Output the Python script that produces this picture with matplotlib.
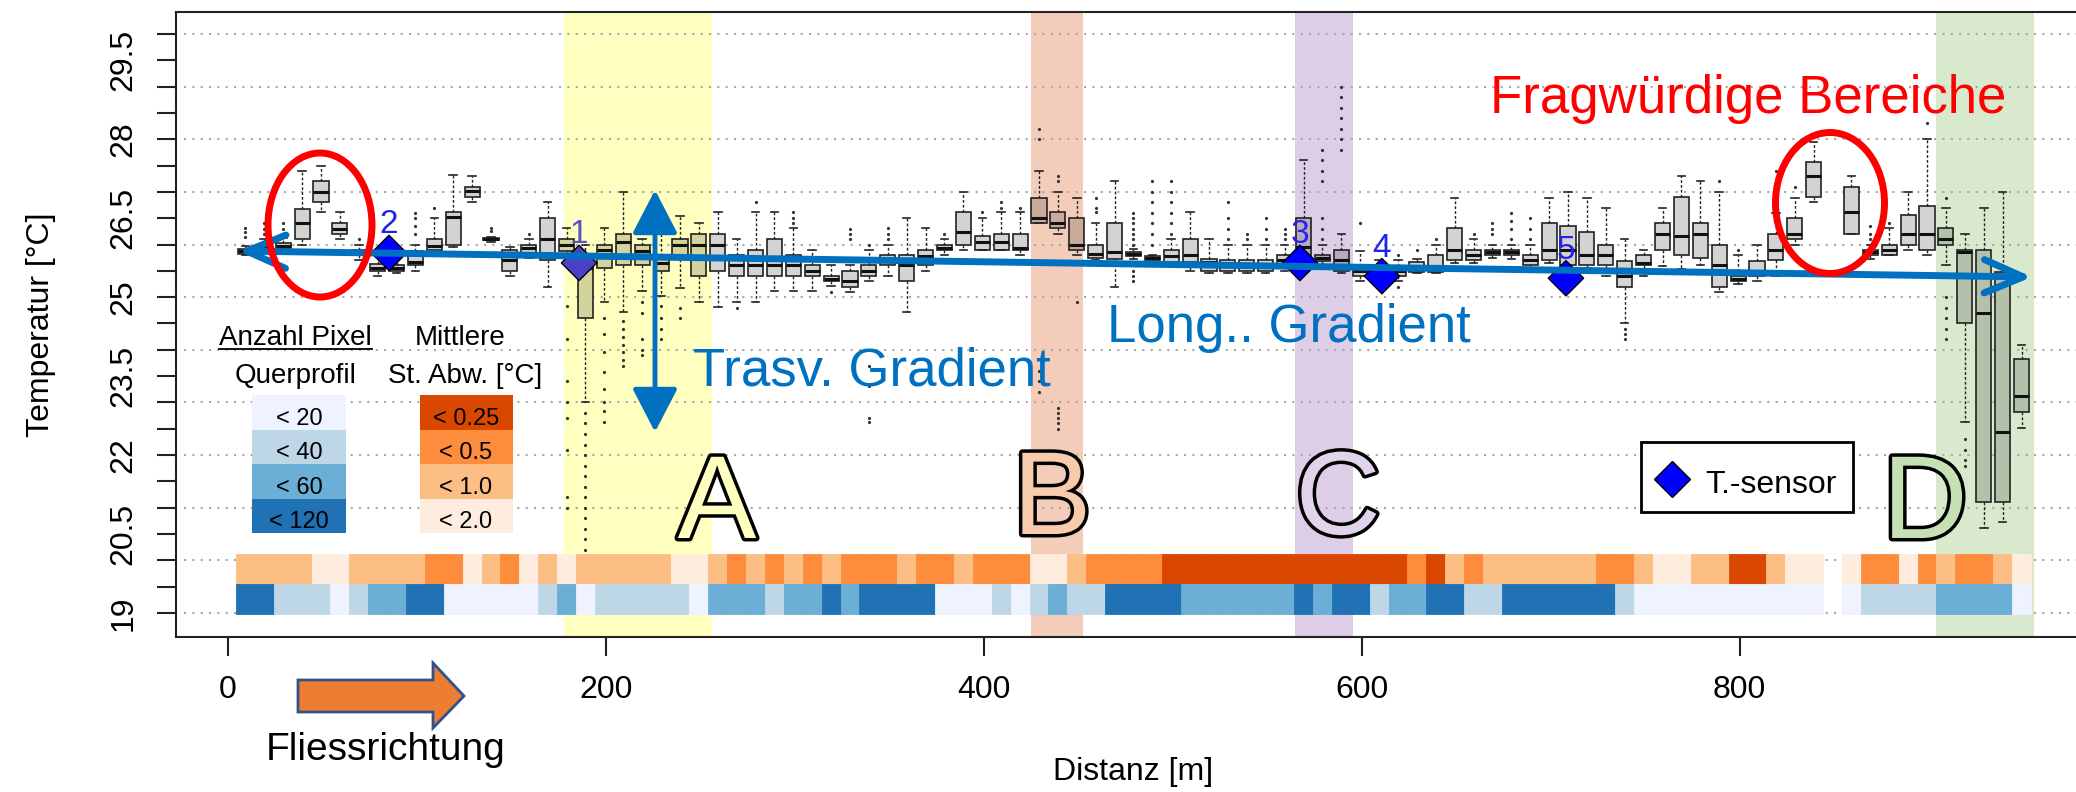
import numpy as np
import matplotlib.pyplot as plt
from matplotlib.patches import Rectangle, Ellipse, Polygon, FancyArrowPatch
from matplotlib.lines import Line2D
import matplotlib.patheffects as pe
from matplotlib.ticker import FuncFormatter

plt.rcParams['font.family'] = ['Liberation Sans', 'DejaVu Sans']

W, H = 2076, 792

# Querprofile alle 10 m
dist = np.arange(9.2, 950, 10.0)

# Boxplot-Kennwerte je Querprofil (None = kein Profil)
q1 = [25.82, 25.90, 25.93, 26.10, 26.81, 26.20, 25.80, 25.50, 25.50, 25.61,
      25.90, 26.00, 26.91, 26.08, 25.50, 25.78, 25.70, 25.88, 24.61, 25.56,
      25.61, 25.61, 25.50, 25.72, 25.40, 25.50, 25.40, 25.40, 25.40, 25.40,
      25.40, 25.31, 25.20, 25.40, 25.61, 25.31, 25.61, 25.90, 25.99, 25.90,
      25.90, 25.90, 26.40, 26.31, 25.90, 25.75, 25.72, 25.78, 25.70, 25.66,
      25.66, 25.50, 25.50, 25.50, 25.50, 25.60, 25.72, 25.69, 25.50, 25.40,
      25.45, 25.40, 25.48, 25.48, 25.70, 25.70, 25.81, 25.81, 25.61, 25.70,
      25.61, 25.61, 25.61, 25.20, 25.61, 25.90, 25.81, 25.75, 25.20, 25.31,
      25.40, 25.70, 26.10, 26.90, None, 26.20, 25.81, 25.81, 25.99, 25.90,
      25.99, 24.50, 21.10, 21.10, 22.81]
med = [25.87, 25.95, 25.98, 26.40, 27.00, 26.30, 25.85, 25.56, 25.56, 25.66,
       25.97, 26.53, 27.02, 26.10, 25.70, 25.94, 26.10, 26.00, 25.55, 25.90,
       26.05, 25.88, 25.65, 25.99, 26.00, 25.99, 25.61, 25.61, 25.61, 25.61,
       25.50, 25.35, 25.30, 25.50, 25.75, 25.61, 25.78, 25.94, 26.24, 26.04,
       26.04, 25.93, 26.50, 26.40, 25.99, 25.82, 25.85, 25.82, 25.74, 25.78,
       25.81, 25.66, 25.60, 25.60, 25.60, 25.70, 25.95, 25.75, 25.70, 25.50,
       25.50, 25.50, 25.55, 25.60, 25.90, 25.80, 25.85, 25.85, 25.70, 25.90,
       25.90, 25.81, 25.80, 25.40, 25.65, 26.20, 26.16, 26.20, 25.61, 25.35,
       25.50, 25.90, 26.20, 27.30, None, 26.61, 25.85, 25.90, 26.20, 26.20,
       26.10, 25.85, 24.70, 22.43, 23.12]
q3 = [25.91, 26.00, 26.02, 26.67, 27.21, 26.40, 25.90, 25.63, 25.62, 25.88,
      26.11, 26.61, 27.10, 26.12, 25.90, 25.99, 26.50, 26.10, 25.70, 25.99,
      26.20, 25.99, 25.78, 26.10, 26.20, 26.20, 25.81, 25.90, 26.11, 25.81,
      25.61, 25.40, 25.50, 25.61, 25.81, 25.81, 25.90, 25.99, 26.61, 26.16,
      26.20, 26.20, 26.89, 26.61, 26.50, 25.99, 26.40, 25.85, 25.78, 25.90,
      26.10, 25.73, 25.70, 25.70, 25.70, 25.81, 26.50, 25.81, 25.90, 25.60,
      25.60, 25.60, 25.66, 25.81, 26.32, 25.90, 25.90, 25.90, 25.81, 26.40,
      26.35, 26.24, 25.99, 25.69, 25.81, 26.40, 26.90, 26.40, 25.99, 25.40,
      25.69, 26.20, 26.50, 27.57, None, 27.10, 25.90, 25.99, 26.56, 26.73,
      26.31, 25.90, 25.90, 25.48, 23.82]
wlo = [25.80, 25.85, 25.88, 26.00, 26.61, 26.11, 25.71, 25.40, 25.45, 25.50,
       25.85, 25.95, 26.81, 26.05, 25.40, 25.75, 25.20, 25.75, 23.00, 24.91,
       24.71, 25.12, 25.02, 25.18, 24.91, 24.82, 24.91, 24.91, 25.12, 25.12,
       25.12, 25.21, 25.10, 25.31, 25.40, 24.71, 25.50, 25.81, 25.90, 25.90,
       25.90, 25.81, 26.40, 26.20, 25.81, 25.70, 25.20, 25.72, 25.66, 25.60,
       25.50, 25.45, 25.45, 25.45, 25.45, 25.50, 25.50, 25.60, 25.45, 25.30,
       25.40, 25.30, 25.45, 25.45, 25.65, 25.65, 25.75, 25.72, 25.55, 25.65,
       25.55, 25.55, 25.40, 24.50, 25.40, 25.60, 25.53, 25.61, 25.10, 25.25,
       25.31, 25.40, 25.99, 26.81, None, 26.20, 25.72, 25.81, 25.90, 25.81,
       25.61, 22.62, 20.62, 20.72, 22.52]
whi = [25.98, 26.10, 26.12, 27.40, 27.49, 26.61, 25.99, 25.80, 25.80, 25.99,
       26.50, 27.32, 27.30, 26.15, 25.95, 26.10, 26.81, 26.32, 26.00, 26.31,
       26.99, 26.10, 26.30, 26.54, 26.40, 26.61, 26.10, 26.61, 26.61, 26.31,
       25.90, 25.61, 25.61, 25.90, 25.99, 26.50, 26.32, 26.10, 26.99, 26.50,
       26.61, 26.61, 27.40, 26.99, 26.89, 26.40, 27.21, 25.92, 25.81, 26.10,
       26.61, 26.10, 25.99, 25.99, 25.99, 25.99, 27.60, 25.99, 26.20, 25.88,
       25.70, 25.70, 25.72, 25.99, 26.89, 26.10, 25.99, 25.99, 25.99, 26.89,
       26.99, 26.89, 26.70, 26.10, 25.90, 26.70, 27.30, 27.20, 26.99, 25.81,
       25.99, 26.60, 26.89, 27.94, None, 27.30, 25.99, 26.31, 26.99, 28.00,
       26.70, 26.20, 26.70, 26.99, 24.10]
fliers = {
    0: [26.15, 26.23, 26.32], 1: [26.2, 26.3, 26.4], 2: [26.2, 26.3, 26.4],
    6: [26.1], 9: [26.2, 26.35, 26.5, 26.6], 10: [26.7], 13: [26.25, 26.32],
    15: [26.2],
    17: [24.83, 24.2, 23.4, 23.0, 22.7, 22.1, 21.2, 21.0],
    18: [22.8, 22.6, 22.4, 22.2, 22.0, 21.8, 21.6, 21.4, 21.2, 21.0, 20.8,
         20.6, 20.4, 20.2],
    19: [24.61, 24.3, 23.95, 23.57, 23.25, 23.0, 22.84, 22.62],
    20: [24.55, 24.4, 24.25, 24.1, 23.95, 23.8, 23.7],
    21: [24.9, 24.7, 24.2, 24.0, 23.9], 22: [24.83, 24.6, 24.4, 24.2],
    23: [24.8, 24.6], 26: [24.8], 27: [26.81], 29: [26.4, 26.5, 26.61],
    31: [25.1], 32: [26.1, 26.2, 26.3], 33: [26.0, 23.69, 23.31, 22.71, 22.62],
    34: [26.1, 26.2, 26.32], 37: [26.2], 39: [26.61], 40: [26.7, 26.81],
    41: [26.7], 42: [28.0, 28.2, 23.6, 23.4, 23.2],
    43: [27.2, 27.3, 22.5, 22.6, 22.7, 22.8, 22.9], 44: [24.91],
    45: [26.61, 26.7, 26.89],
    47: [26.0, 26.1, 26.2, 26.3, 26.4, 26.5, 26.6, 25.5, 25.4, 25.3],
    48: [26.0, 26.2, 26.4, 26.6, 26.8, 27.0, 27.2],
    49: [26.2, 26.4, 26.6, 26.8, 27.0, 27.2],
    52: [26.1, 26.3, 26.5, 26.8], 53: [26.1, 26.2], 54: [26.1, 26.3, 26.5],
    55: [26.1, 26.2, 26.3], 57: [26.1, 26.3, 26.5, 27.2, 27.4, 27.6, 27.8],
    58: [27.8, 28.0, 28.2, 28.4, 28.6, 28.8, 29.0], 59: [26.4],
    61: [25.8, 25.2], 62: [25.9], 63: [26.1], 65: [26.2],
    66: [26.2, 26.3, 26.4], 67: [26.1, 26.3, 26.45, 26.6],
    68: [26.1, 26.3, 26.5], 73: [24.4, 24.3, 24.2], 78: [27.21], 79: [25.9],
    81: [26.8, 27.0, 27.4], 82: [27.1], 86: [26.1, 26.2, 26.35], 87: [26.4],
    89: [28.3], 90: [26.89, 25.0, 24.8, 24.6, 24.4, 24.2],
    91: [22.3, 22.1, 21.9, 21.8],
}

# Klassen der Farbstreifen (Index in die Legenden)
sd_class = [2, 2, 2, 2, 3, 3, 2, 2, 2, 2, 1, 1, 3, 2, 1, 3, 2, 3, 2, 2,
            2, 2, 2, 3, 3, 2, 1, 2, 1, 2, 1, 2, 1, 1, 1, 2, 1, 1, 2, 1,
            1, 1, 3, 3, 2, 1, 1, 1, 1, 0, 0, 0, 0, 0, 0, 0, 0, 0, 0, 0,
            0, 0, 1, 0, 2, 1, 2, 2, 2, 2, 2, 2, 1, 1, 2, 3, 3, 2, 2, 0,
            0, 2, 3, 3, None, 3, 1, 1, 3, 1, 2, 1, 1, 2, 3]
px_class = [3, 3, 1, 1, 1, 0, 1, 2, 2, 3, 3, 0, 0, 0, 0, 0, 1, 2, 0, 1,
            1, 1, 1, 1, 0, 2, 2, 2, 1, 2, 2, 3, 2, 3, 3, 3, 3, 0, 0, 0,
            1, 0, 1, 2, 1, 1, 3, 3, 3, 3, 2, 2, 2, 2, 2, 2, 3, 2, 3, 3,
            1, 2, 2, 3, 3, 1, 1, 3, 3, 3, 3, 3, 3, 1, 0, 0, 0, 0, 0, 0,
            0, 0, 0, 0, None, 0, 1, 1, 1, 1, 2, 2, 2, 2, 0]

sd_colors = ['#D94701', '#FD8D3C', '#FDBE85', '#FEEDDE']
sd_labels = ['< 0.25', '< 0.5', '< 1.0', '< 2.0']
px_colors = ['#EFF3FF', '#BDD7E7', '#6BAED6', '#2171B5']
px_labels = ['< 20', '< 40', '< 60', '< 120']

# Temperatursensoren
sensor_x = [185.8, 85.2, 567.3, 610.7, 708.1]
sensor_t = [25.65, 25.84, 25.65, 25.40, 25.36]
sensor_id = ['1', '2', '3', '4', '5']

# markierte Abschnitte
zones = ['A', 'B', 'C', 'D']
zone_from = [178, 425, 564.7, 904]
zone_to = [256, 452.5, 595.4, 956]
zone_colors = ['#FFFFBF', '#F4CDBA', '#DDCDE6', '#D9E9CE']
letter_colors = ['#FFFFC0', '#F8CBAD', '#E2D3EC', '#C5E0B4']


def fx(px):
    return px / W


def fy(py):
    return 1 - py / H


fig = plt.figure(figsize=(W / 100, H / 100), dpi=100)
ax = fig.add_axes([fx(176), fy(637), (2090 - 176) / W, (637 - 12) / H])
ax.set_xlim((176 - 228) / 1.8895, (2090 - 228) / 1.8895)
ax.set_ylim(19 - (637 - 613) / 52.64, 19 + (613 - 12) / 52.64)

for lo, hi, c in zip(zone_from, zone_to, zone_colors):
    ax.axvspan(lo, hi, color=c, lw=0, zorder=0)

for v in range(19, 31):
    ax.axhline(v, xmin=0.004, color='#A8A8A8', lw=1.5, ls=(0, (1, 3)), zorder=0.5)


def box_face(x):
    base = np.array([0.827, 0.827, 0.827])
    for lo, hi, c in zip(zone_from, zone_to, zone_colors):
        if lo <= x <= hi:
            return tuple(base * np.array(plt.matplotlib.colors.to_rgb(c)))
    return tuple(base)


stats, pos, faces = [], [], []
for k in range(len(dist)):
    if med[k] is None:
        continue
    stats.append(dict(med=med[k], q1=q1[k], q3=q3[k], whislo=wlo[k],
                      whishi=whi[k], fliers=fliers.get(k, [])))
    pos.append(dist[k])
    faces.append(box_face(dist[k]))

bp = ax.bxp(stats, positions=pos, widths=8, capwidths=4, patch_artist=True,
            manage_ticks=False, zorder=2,
            boxprops=dict(edgecolor='#222222', linewidth=1.2),
            whiskerprops=dict(color='#222222', lw=1.0, ls=(0, (2, 1.5))),
            capprops=dict(color='#222222', lw=1.2),
            medianprops=dict(color='#111111', lw=2.2),
            flierprops=dict(marker='o', ms=2.3, mfc='#333333', mec='#333333', mew=0))
for b, f in zip(bp['boxes'], faces):
    b.set_facecolor(f)

# Farbstreifen: St.Abw. (oben) und Pixelanzahl (unten)
ok = [k for k in range(len(dist)) if sd_class[k] is not None]
sd_cols = [sd_colors[sd_class[k]] for k in ok]
px_cols = [px_colors[px_class[k]] for k in ok]
ax.bar(dist[ok], 0.57, width=10, bottom=19.55, color=sd_cols, edgecolor=sd_cols,
       lw=0.6, zorder=2.5)
ax.bar(dist[ok], 0.57, width=10, bottom=18.98, color=px_cols, edgecolor=px_cols,
       lw=0.6, zorder=2.5)

# Sensoren
sens_cols = ['#4A40C4', '#0000FF', '#0000FF', '#0000FF', '#0000FF']
ax.scatter(sensor_x, sensor_t, marker='D', s=18 ** 2, c=sens_cols,
           edgecolors='black', linewidths=1, zorder=6)
for sx, st, sid, c in zip(sensor_x, sensor_t, sensor_id, sens_cols):
    ax.annotate(sid, (sx, st), xytext=(0, 14), textcoords='offset points',
                ha='center', va='baseline', fontsize=24,
                color='#5A50C8' if c != '#0000FF' else '#2222EE', zorder=7)

# Achsen
ax.set_xticks([0, 200, 400, 600, 800])
ax.set_yticks(np.arange(19, 30.01, 0.5))
ax.yaxis.set_major_formatter(FuncFormatter(
    lambda v, p: f'{v:g}' if abs((v - 19) / 1.5 - round((v - 19) / 1.5)) < 1e-6 else ''))
ax.tick_params(axis='both', length=14, width=1.5, labelsize=23, color='#222222')
ax.tick_params(axis='x', pad=13)
ax.tick_params(axis='y', pad=13, labelrotation=90)
for lab in ax.get_yticklabels():
    lab.set_va('center')
for s in ['left', 'bottom', 'top']:
    ax.spines[s].set_linewidth(1.5)
    ax.spines[s].set_color('#222222')
ax.spines['right'].set_visible(False)
ax.set_ylabel('Temperatur [°C]', fontsize=23)
ax.yaxis.set_label_coords(-0.0627, 0.5)
ax.set_xlabel('Distanz [m]', fontsize=23)
ax.xaxis.set_label_coords(0.5, -0.192)

# Legende Sensor
fig.add_artist(Rectangle((fx(1641), fy(512)), 212 / W, 70 / H, transform=fig.transFigure,
                         fc='white', ec='black', lw=2, zorder=8))
fig.add_artist(Line2D([fx(1672)], [fy(479)], marker='D', ms=18, mfc='#0000FF', mec='black',
                      mew=1, transform=fig.transFigure, zorder=9))
fig.text(fx(1705), fy(493), 'T.-sensor', fontsize=23, va='baseline', zorder=9)

# Legenden der Farbstreifen
fig.text(fx(295), fy(345), 'Anzahl Pixel', fontsize=20, ha='center', va='baseline')
fig.add_artist(Line2D([fx(219), fx(372)], [fy(349), fy(349)], color='black', lw=1.3,
                      transform=fig.transFigure))
fig.text(fx(296), fy(383), 'Querprofil', fontsize=20, ha='center', va='baseline')
fig.text(fx(460), fy(345), 'Mittlere', fontsize=20, ha='center', va='baseline')
fig.text(fx(465), fy(383), 'St. Abw. [°C]', fontsize=20, ha='center', va='baseline')
row_h = 34.5
for i in range(4):
    top = 395 + row_h * i
    fig.add_artist(Rectangle((fx(252), fy(top + row_h)), 94 / W, row_h / H,
                             transform=fig.transFigure, fc=px_colors[i], ec='none'))
    fig.text(fx(299), fy(top + 30), px_labels[i], fontsize=17, ha='center', va='baseline')
    fig.add_artist(Rectangle((fx(420), fy(top + row_h)), 93 / W, row_h / H,
                             transform=fig.transFigure, fc=sd_colors[i], ec='none'))
    fig.text(fx(466), fy(top + 30), sd_labels[i], fontsize=17, ha='center', va='baseline')

# Buchstaben der Abschnitte
letter_px = [(717, 538), (1052, 534), (1338, 534), (1925, 538)]
for z, (lx, ly), c in zip(zones, letter_px, letter_colors):
    fig.text(fx(lx), fy(ly), z, fontsize=85, ha='center', va='baseline', color=c,
             path_effects=[pe.Stroke(linewidth=5, foreground='black'), pe.Normal()])

# Pfeile und Markierungen
blue = '#0070C0'
fig.add_artist(FancyArrowPatch((fx(238), fy(251)), (fx(2032), fy(277)),
                               transform=fig.transFigure,
                               arrowstyle='<->,head_length=28,head_width=12',
                               mutation_scale=1, color=blue, lw=5,
                               shrinkA=0, shrinkB=0, capstyle='round', zorder=5))
fig.add_artist(FancyArrowPatch((fx(655), fy(190)), (fx(655), fy(432)),
                               transform=fig.transFigure,
                               arrowstyle='<|-|>,head_length=27,head_width=14',
                               mutation_scale=1, color=blue, lw=3.5,
                               shrinkA=0, shrinkB=0, zorder=5))
fig.text(fx(693), fy(385), 'Trasv. Gradient', fontsize=38, color=blue, va='baseline')
fig.text(fx(1107), fy(342), 'Long.. Gradient', fontsize=38, color=blue, va='baseline')
fig.text(fx(1490), fy(113), 'Fragwürdige Bereiche', fontsize=38, color='#FF0000',
         va='baseline')

fig.add_artist(Ellipse((fx(320), fy(225)), 104 / W, 144 / H, transform=fig.transFigure,
                       fill=False, ec='#FF0000', lw=5, zorder=6))
fig.add_artist(Ellipse((fx(1830), fy(203)), 109 / W, 141 / H, transform=fig.transFigure,
                       fill=False, ec='#FF0000', lw=5, zorder=6))

flow = [(298, 680), (433, 680), (433, 663), (464, 696), (433, 728), (433, 712), (298, 712)]
fig.add_artist(Polygon([(fx(a), fy(b)) for a, b in flow], closed=True,
                       transform=fig.transFigure, fc='#ED7D31', ec='#2F528F', lw=2))
fig.text(fx(266), fy(760), 'Fliessrichtung', fontsize=28, va='baseline')

fig.savefig('out.png', dpi=100, facecolor='white')
